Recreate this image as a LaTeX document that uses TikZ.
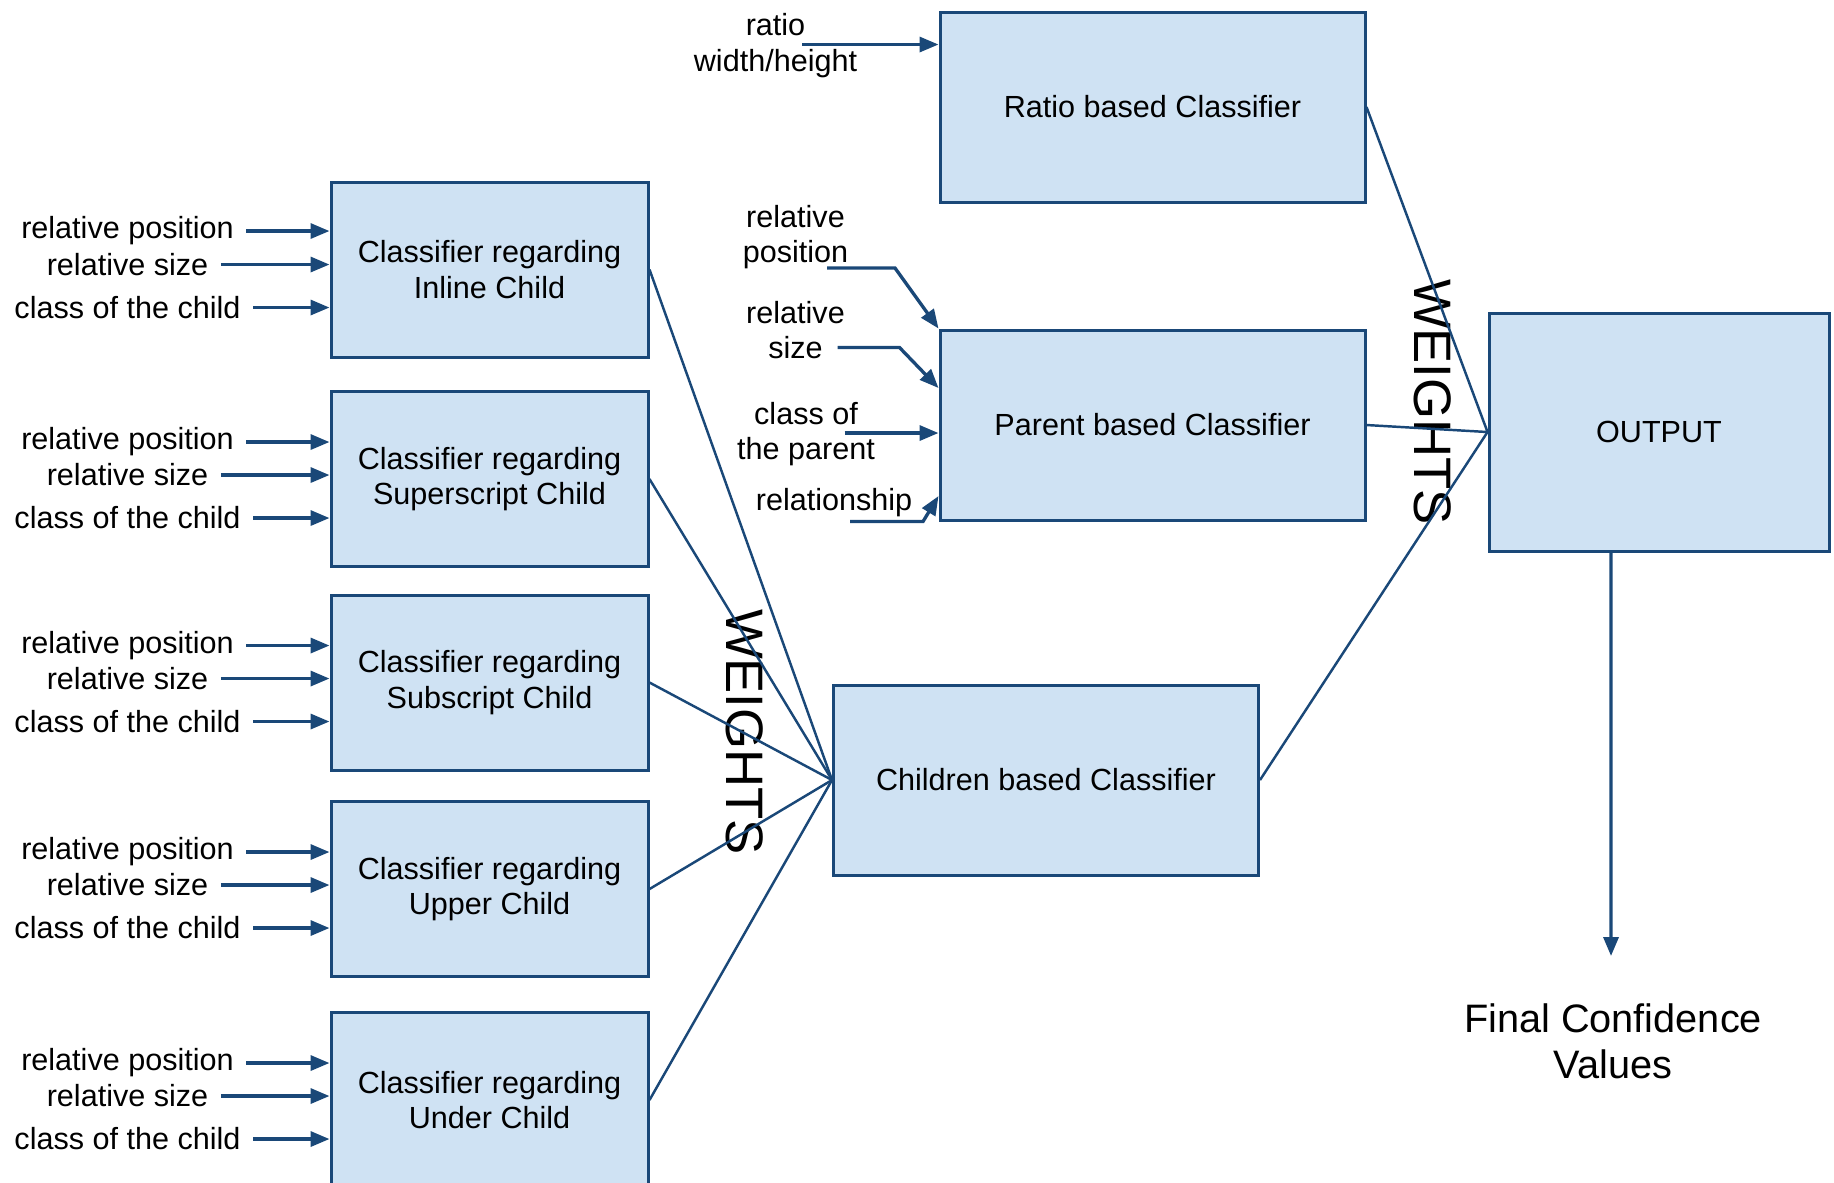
\documentclass[tikz,border=0pt]{standalone}
\usepackage{fontspec}
\setmainfont{Liberation Sans}
\usetikzlibrary{positioning,arrows.meta}
\definecolor{boxfill}{RGB}{207,226,243}
\definecolor{boxline}{RGB}{26,72,120}

\begin{document}
\begin{tikzpicture}[ % coordinates are pixels/100 of the original layout
box_text/.style={font=\fontsize{8.7}{10}\selectfont, align=center},
big_square/.style={rectangle, draw=boxline, fill=boxfill, line width=0.85pt, minimum width=4.25cm, minimum height=1.9cm, box_text},
child_square/.style={rectangle, draw=boxline, fill=boxfill, line width=0.85pt, minimum width=3.17cm, minimum height=1.75cm, box_text},
out_square/.style={rectangle, draw=boxline, fill=boxfill, line width=0.85pt, minimum width=3.4cm, minimum height=2.38cm, box_text},
in_label/.style={box_text, inner xsep=1.2mm, inner ysep=0.5mm},
in_arrow/.style={-{Triangle[length=1.9mm,width=1.5mm]}, draw=boxline, line width=0.95pt},
weight_line/.style={draw=boxline, line width=0.7pt},
weights_text/.style={font=\fontsize{15}{18}\selectfont, rotate=-90}
]
\useasboundingbox (0,0) rectangle (18.34,-11.82);

% classifier boxes
\node[big_square](ratio) at (11.525,-1.07) {Ratio based Classifier};
\node[big_square](parent) at (11.525,-4.25) {Parent based Classifier};
\node[big_square](children) at (10.46,-7.80) {Children based Classifier};
\node[out_square](output) at (16.59,-4.32) {OUTPUT};

\node[child_square](inline) at (4.895,-2.695) {Classifier regarding\\Inline Child};
\node[child_square](super) at (4.895,-4.79) {Classifier regarding\\Superscript Child};
\node[child_square](sub) at (4.895,-6.825) {Classifier regarding\\Subscript Child};
\node[child_square](upper) at (4.895,-8.89) {Classifier regarding\\Upper Child};
\node[child_square](under) at (4.895,-11.0) {Classifier regarding\\Under Child};

% inputs of the child classifiers
\node[in_label](inline_pos) at (1.275,-2.31) {relative position};
\node[in_label](inline_size) at (1.275,-2.645) {relative size};
\node[in_label](inline_class) at (1.275,-3.075) {class of the child};
\node[in_label](super_pos) at (1.275,-4.42) {relative position};
\node[in_label](super_size) at (1.275,-4.75) {relative size};
\node[in_label](super_class) at (1.275,-5.18) {class of the child};
\node[in_label](sub_pos) at (1.275,-6.455) {relative position};
\node[in_label](sub_size) at (1.275,-6.785) {relative size};
\node[in_label](sub_class) at (1.275,-7.215) {class of the child};
\node[in_label](upper_pos) at (1.275,-8.52) {relative position};
\node[in_label](upper_size) at (1.275,-8.85) {relative size};
\node[in_label](upper_class) at (1.275,-9.28) {class of the child};
\node[in_label](under_pos) at (1.275,-10.63) {relative position};
\node[in_label](under_size) at (1.275,-10.96) {relative size};
\node[in_label](under_class) at (1.275,-11.39) {class of the child};

% inputs of ratio and parent classifiers
\node[box_text](ratio_lbl) at (7.755,-0.456) {ratio\\width/height};
\coordinate (ratio_in) at (8.02,-0.445);
\node[box_text](ppos_lbl) at (7.955,-2.37) {relative\\position};
\coordinate (ppos_in) at (8.27,-2.68);
\node[box_text](psize_lbl) at (7.955,-3.30) {relative\\size};
\coordinate (psize_in) at (8.375,-3.475);
\node[box_text](pclass_lbl) at (8.06,-4.34) {class of\\the parent};
\coordinate (pclass_in) at (8.445,-4.33);
\node[box_text](prel_lbl) at (8.34,-5.03) {relationship};
\coordinate (prel_in) at (8.50,-5.215);

% weights and result
\node[weights_text](weights_a) at (7.45,-7.32) {WEIGHTS};
\node[weights_text](weights_b) at (14.33,-4.02) {WEIGHTS};
\coordinate (final_tip) at (16.11,-9.56);
\node[font=\fontsize{11.3}{13}\selectfont, align=center](final) at (16.13,-10.41) {Final Confidence\\Values};

% arrows into the child classifiers
\draw[in_arrow](inline_pos) -- (inline_pos -| inline.west);
\draw[in_arrow](inline_size) -- (inline_size -| inline.west);
\draw[in_arrow](inline_class) -- (inline_class -| inline.west);
\draw[in_arrow](super_pos) -- (super_pos -| super.west);
\draw[in_arrow](super_size) -- (super_size -| super.west);
\draw[in_arrow](super_class) -- (super_class -| super.west);
\draw[in_arrow](sub_pos) -- (sub_pos -| sub.west);
\draw[in_arrow](sub_size) -- (sub_size -| sub.west);
\draw[in_arrow](sub_class) -- (sub_class -| sub.west);
\draw[in_arrow](upper_pos) -- (upper_pos -| upper.west);
\draw[in_arrow](upper_size) -- (upper_size -| upper.west);
\draw[in_arrow](upper_class) -- (upper_class -| upper.west);
\draw[in_arrow](under_pos) -- (under_pos -| under.west);
\draw[in_arrow](under_size) -- (under_size -| under.west);
\draw[in_arrow](under_class) -- (under_class -| under.west);

\draw[in_arrow](ratio_in) -- (ratio_in -| ratio.west);
\draw[in_arrow](ppos_in) -- ++(0.68,0) -- (parent.north west);
\draw[in_arrow](psize_in) -- ++(0.62,0) -- ([yshift=3.7mm]parent.west);
\draw[in_arrow](pclass_in) -- (pclass_in -| parent.west);
\draw[in_arrow](prel_in) -- ++(0.73,0) -- ([yshift=-7.1mm]parent.west);

% weighted connections
\draw[weight_line](inline.east) -- (children.west);
\draw[weight_line](super.east) -- (children.west);
\draw[weight_line](sub.east) -- (children.west);
\draw[weight_line](upper.east) -- (children.west);
\draw[weight_line](under.east) -- (children.west);

\draw[weight_line](ratio.east) -- (output.west);
\draw[weight_line](parent.east) -- (output.west);
\draw[weight_line](children.east) -- (output.west);

\draw[in_arrow]([xshift=-4.8mm]output.south) -- (final_tip);
\end{tikzpicture}
\end{document}
